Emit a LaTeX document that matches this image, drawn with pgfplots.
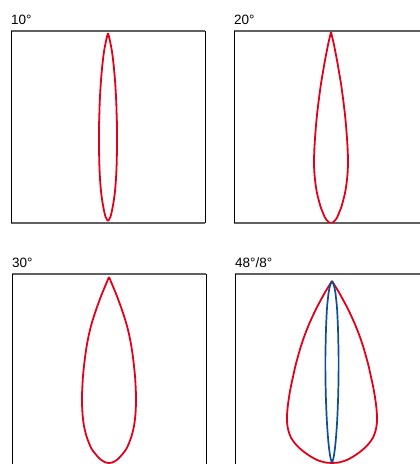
\documentclass[border=0pt]{standalone}
\usepackage{fontspec}
\setmainfont{Liberation Sans}
\usepackage{pgfplots}
\usepackage{pgfplotstable}
\pgfplotsset{compat=1.18}
\definecolor{beamred}{RGB}{226,0,26}
\definecolor{beamblue}{RGB}{12,80,145}

% beam half-widths w (px) against height h above the box bottom (px)
\pgfplotstableread{
h w
2 0
6 2.4
12 3.9
20 5.4
30 6.8
40 7.7
50 8.3
60 8.7
70 8.9
80 9.0
90 9.0
100 8.9
110 8.6
120 8.3
130 7.8
140 7.2
150 6.4
162 5.2
172 3.9
182 2.0
190 0
}\beamten
\pgfplotstableread{
h w
0 0
0.5 1.7
1.5 3.0
3 4.4
6 6.3
10 8.0
15 10.0
20 11.5
30 14.0
40 15.6
50 16.6
60 17.0
70 16.8
80 16.3
90 15.6
100 14.8
110 13.8
120 12.6
130 11.3
140 9.9
150 8.2
160 6.5
170 4.6
180 2.6
191 0
}\beamtwenty
\pgfplotstableread{
h w
3 0
3.5 3.2
4.5 5.5
6 7.7
8 10.0
10 11.8
15 16.0
20 18.8
30 22.6
40 25.0
50 26.3
60 26.9
70 27.0
80 26.6
90 26.0
100 25.0
110 23.8
120 22.3
130 20.4
140 18.0
150 15.0
160 11.6
170 7.9
180 3.8
189 0
}\beamthirty
\pgfplotstableread{
h w
3 0
3.5 6.5
4.5 10.5
6 14.8
9 20.5
13 26.5
17 31.5
22 36.5
28 40.8
35 43.5
42 44.8
50 45.0
60 44.2
70 42.8
80 41.0
90 38.8
100 36.6
110 33.9
120 31.0
130 27.6
140 23.7
150 19.3
160 14.4
170 9.0
175 6.2
180 3.1
185 0
}\beamwide
\pgfplotstableread{
h w
3 0
8 1.5
15 2.6
25 3.7
38 4.7
50 5.4
65 6.0
80 6.4
95 6.6
110 6.6
125 6.3
140 5.9
158 5.0
168 4.0
174 3.3
181 1.8
185 0
}\beamnarrow

\pgfplotsset{
  beambox/.style={
    scale only axis, width=194pt, height=192pt,
    xmin=0, xmax=194, ymin=0, ymax=192,
    xtick=\empty, ytick=\empty,
    separate axis lines,
    x axis line style={draw=black!62, line width=1.4pt},
    y axis line style={draw=black, line width=0.9pt},
    anchor=south west,
  },
}
\newcommand{\beam}[3]{%
  \addplot[#1, line width=#3, smooth] table[x expr=97+\thisrow{w}, y=h] {#2};
  \addplot[#1, line width=#3, smooth] table[x expr=97-\thisrow{w}, y=h] {#2};
}

\begin{document}
\begin{tikzpicture}[x=1pt, y=1pt]
\path[use as bounding box] (0,0) rectangle (420,464);
\clip (0,0) rectangle (420,464);

\begin{axis}[beambox, at={(11pt,241pt)}]
  \beam{beamred}{\beamten}{1.8pt}
\end{axis}

\begin{axis}[beambox, at={(234pt,241pt)}]
  \beam{beamred}{\beamtwenty}{1.8pt}
\end{axis}

\begin{axis}[beambox, at={(12pt,-2pt)}]
  \beam{beamred}{\beamthirty}{1.8pt}
\end{axis}

\begin{axis}[beambox, at={(235pt,-2pt)}]
  \beam{beamred}{\beamwide}{1.8pt}
  \beam{beamblue}{\beamnarrow}{1.7pt}
\end{axis}

\begin{scope}[every node/.style={anchor=base west, inner sep=0pt, font=\fontsize{13.5}{16}\selectfont}]
  \node at (11,439) {10°};
  \node at (234,439) {20°};
  \node at (12,196) {30°};
  \node at (235,196) {48°/8°};
\end{scope}
\end{tikzpicture}
\end{document}
